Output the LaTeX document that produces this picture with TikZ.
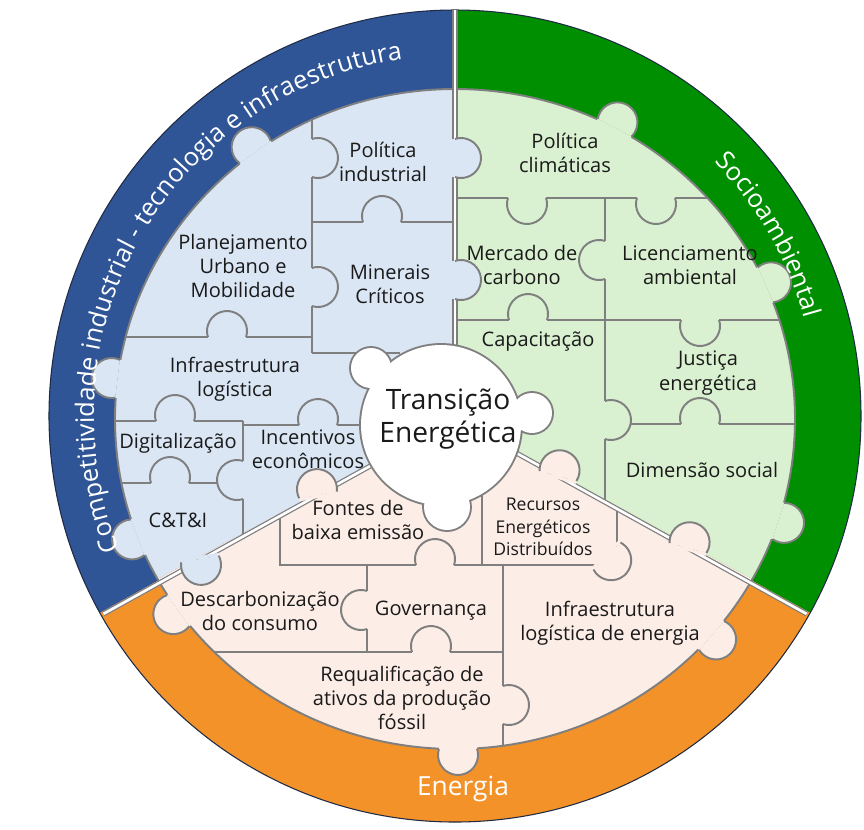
\documentclass[tikz,border=0pt]{standalone}
\usepackage{fontspec}
\setmainfont{Open Sans}
\usetikzlibrary{decorations.text}
\definecolor{ringblue}{HTML}{2F5597}
\definecolor{ringgreen}{HTML}{008F00}
\definecolor{ringorange}{HTML}{F39229}
\definecolor{ringedge}{HTML}{1F2A44}
\definecolor{paleblue}{HTML}{DAE6F4}
\definecolor{palegreen}{HTML}{D9F1D0}
\definecolor{palepeach}{HTML}{FCEDE6}
\definecolor{seam}{HTML}{7F7F7F}
\definecolor{ink}{HTML}{1A1A1A}
\newcommand\piecefont{\fontsize{11.4}{13.8}\selectfont}
\newcommand\ringfont{\fontsize{14.5}{17}\selectfont}
\tikzset{
  seamline/.style={draw=seam,line width=1.1pt},
  gapedge/.style={draw=seam,line width=2.9pt},
  gapwhite/.style={draw=white,line width=1.5pt},
  ringrim/.style={draw=ringedge,line width=0.6pt},
  piecetext/.style={font=\piecefont,align=center,text=ink,inner sep=1pt},
  smalltext/.style={font=\fontsize{10}{12.8}\selectfont,align=center,text=ink,inner sep=1pt},
  hubtext/.style={font=\fontsize{16}{18.7}\selectfont,align=center,text=ink},
  ringtext/.style={font=\fontsize{15}{17}\selectfont,text=white},
  tab/.pic={
    \fill[#1] (0,19.1) arc[start angle=107.4,end angle=-107.4,radius=20] -- cycle;
    \fill[#1] (-3,-19.1) rectangle (0,19.1);
    \draw[seamline] (0,19.1) arc[start angle=107.4,end angle=-107.4,radius=20];
  }
}
\begin{document}
\begin{tikzpicture}[x=0.02cm,y=-0.02cm]
  \useasboundingbox (0,0) rectangle (864,829);

  % outer ring
  \fill[ringblue] (455,416) -- ++(151:406) arc[start angle=151,end angle=270,radius=406] -- cycle;
  \fill[ringgreen] (455,416) -- ++(270:406) arc[start angle=270,end angle=389,radius=406] -- cycle;
  \fill[ringorange] (455,416) -- ++(29:406) arc[start angle=29,end angle=151,radius=406] -- cycle;
  \draw[ringrim] (455,416) circle (406);

  % puzzle field
  \fill[paleblue] (455,419) -- ++(151:340 and 330) arc[start angle=151,end angle=270,x radius=340,y radius=330] -- cycle;
  \fill[palegreen] (455,419) -- ++(270:340 and 330) arc[start angle=270,end angle=389,x radius=340,y radius=330] -- cycle;
  \fill[palepeach] (455,419) -- ++(29:340 and 330) arc[start angle=29,end angle=151,x radius=340,y radius=330] -- cycle;
  \draw[seamline] (455,419) ellipse[x radius=340,y radius=330];

  \begin{scope}
    \clip (455,419) ellipse[x radius=340,y radius=330];
    \draw[seamline] (312,80) -- (312,353);
    \draw[seamline] (312,222) -- (455,222);
    \draw[seamline] (100,337) -- (312,337);
    \draw[seamline] (312,353) -- (400,353);
    \draw[seamline] (100,421) -- (243,421);
    \draw[seamline] (243,425) -- (400,425);
    \draw[seamline] (243,421) -- (243,536);
    \draw[seamline] (100,483) -- (243,483);
    \draw[seamline] (455,198) -- (820,198);
    \draw[seamline] (605,198) -- (605,502);
    \draw[seamline] (455,320) -- (820,320);
    \draw[seamline] (605,424) -- (820,424);
    \draw[seamline] (280,516) -- (280,565) -- (617,565) -- (617,509);
    \draw[seamline] (482,480) -- (482,565);
    \draw[seamline] (367,565) -- (367,652);
    \draw[seamline] (503,565) -- (503,780);
    \draw[seamline] (100,652) -- (503,652);
  \end{scope}

  % seams between the three sectors
  \foreach \ang/\len in {270/409,151/402,29/402} {
    \draw[gapedge] (455,419) -- ++(\ang:\len);
    \draw[gapwhite] (455,419) -- ++(\ang:\len);
  }

  % tabs
  \foreach \px/\py/\ang in {312/158/0,382/222/90,312/287/0,455/158/0,455/280/0,
      227/337/90,175/421/90,318/425/90,170/483/90,243/480/180,200/559/-80}
    \pic[rotate=\ang] at (\px,\py) {tab=paleblue};
  \foreach \px/\py/\ang in {527/198/-90,656/198/-90,605/260/180,528/320/90,
      700/320/-90,700/424/90,605/420/0}
    \pic[rotate=\ang] at (\px,\py) {tab=palegreen};
  \foreach \px/\py/\ang in {435/565/90,367/610/180,431/652/90,503/705/0,
      607/556/-45,318/495/100,558/476/75,688/548/75}
    \pic[rotate=\ang] at (\px,\py) {tab=palepeach};
  \foreach \ang in {126,173,201}
    \path (455,419) ++(-\ang:340 and 330) pic[rotate=\ang] {tab=paleblue};
  \foreach \ang in {62,24,-18}
    \path (455,419) ++(-\ang:340 and 330) pic[rotate=\ang] {tab=palegreen};
  \foreach \ang in {-89.5,-41,215.5}
    \path (455,419) ++(-\ang:340 and 330) pic[rotate=\ang] {tab=palepeach};

  % hub
  \foreach \cx/\cy/\r in {441/425/80,371/368/20,532/413/20,447/507/23}
    \draw[seam,line width=2.2pt] (\cx,\cy) circle (\r);
  \foreach \cx/\cy/\r in {441/425/80,371/368/20,532/413/20,447/507/23}
    \fill[white] (\cx,\cy) circle (\r);
  \node[hubtext] (hub) at (448,419) {Transição\\Energética};

  \node[piecetext] (polind) at (383,162) {Política\\industrial};
  \node[piecetext] (planej) at (243,266) {Planejamento\\Urbano e\\Mobilidade};
  \node[piecetext] (miner) at (390,284) {Minerais\\Críticos};
  \node[piecetext] (infralog) at (235,379) {Infraestrutura\\logística};
  \node[piecetext] (digit) at (178,443) {Digitalização};
  \node[piecetext] (incent) at (308,449) {Incentivos\\econômicos};
  \node[piecetext] (cti) at (178,520) {C\&T\&I};
  \node[piecetext] (polclim) at (565,153) {Política\\climáticas};
  \node[piecetext] (mercado) at (522,265) {Mercado de\\carbono};
  \node[piecetext] (licenc) at (690,265) {Licenciamento\\ambiental};
  \node[piecetext] (capac) at (538,342) {Capacitação};
  \node[piecetext] (justica) at (708,373) {Justiça\\energética};
  \node[piecetext] (dimsoc) at (702,470) {Dimensão social};
  \node[piecetext] (fontes) at (358,520) {Fontes de\\baixa emissão};
  \node[smalltext] (recursos) at (543,527) {Recursos\\Energéticos\\Distribuídos};
  \node[piecetext] (descarb) at (260,611) {Descarbonização\\do consumo};
  \node[piecetext] (govern) at (431,611) {Governança};
  \node[piecetext] (infraen) at (610,623) {Infraestrutura\\logística de energia};
  \node[piecetext] (requal) at (402,698) {Requalificação de\\ativos da produção\\fóssil};

  % ring labels
  \node[ringtext] (energia) at (463,789) {Energia};
  \path[decorate,decoration={text along path,text align=center,text color=white,
      text={|\ringfont|Competitividade industrial - tecnologia e infraestrutura}}]
    (455,416) ++(155:361) arc[start angle=155,end angle=265,radius=361];
  \path[decorate,decoration={text along path,text align=center,text color=white,
      text={|\ringfont|Socioambiental}}]
    (455,416) ++(-70:363) arc[start angle=-70,end angle=10,radius=363];
\end{tikzpicture}
\end{document}
